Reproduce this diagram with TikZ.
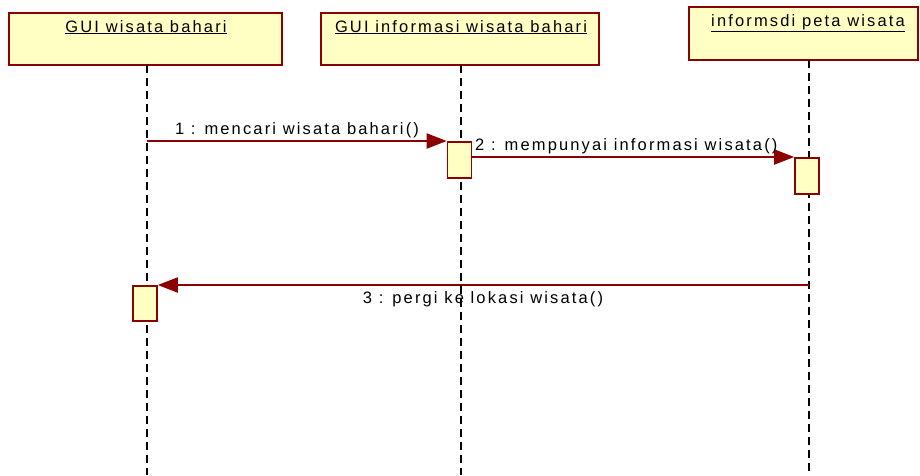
\documentclass[tikz,border=0pt]{standalone}
\usepackage{fontspec}
\setmainfont{Liberation Sans}[LetterSpace=13]
\usetikzlibrary{arrows.meta}
\definecolor{roseborder}{HTML}{8B0000}
\definecolor{rosefill}{HTML}{FFFFC4}
\begin{document}
\begin{tikzpicture}[x=1pt,y=-1pt,
  objbox/.style={draw=roseborder,fill=rosefill,line width=1.6pt,inner sep=0pt},
  actbox/.style={draw=roseborder,fill=rosefill,line width=1.6pt,inner sep=0pt,minimum width=24pt},
  lifeline/.style={draw=black,line width=1.6pt,dash pattern=on 8pt off 5pt},
  msg/.style={draw=roseborder,line width=1.9pt,-{Triangle[length=20pt,width=15pt]}},
  lbl/.style={inner sep=0pt,anchor=base,font=\fontsize{16.5pt}{18pt}\selectfont}
]
\useasboundingbox (0,0) rectangle (920,475);
% object boxes
\node[objbox,minimum width=273pt,minimum height=52pt] (o1) at (145.5,39) {};
\node[objbox,minimum width=278pt,minimum height=52pt] (o2) at (460,39) {};
\node[objbox,minimum width=229pt,minimum height=53pt] (o3) at (803.5,33.5) {};
\node[lbl] (t1) at (146,32) {\underline{GUI wisata bahari}};
\node[lbl] (t2) at (461,32) {\underline{GUI informasi wisata bahari}};
\node[lbl] (t3) at (808,26) {\underline{informsdi peta wisata}};
% lifeline ends
\coordinate (l1s) at (147,65);
\coordinate (l1e) at (147,475);
\coordinate (l2s) at (461,65);
\coordinate (l2e) at (461,475);
\coordinate (l3s) at (809,60);
\coordinate (l3e) at (809,475);
\draw[lifeline] (l1s) -- (l1e);
\draw[lifeline] (l2s) -- (l2e);
\draw[lifeline] (l3s) -- (l3e);
% activation boxes
\node[actbox,minimum height=36pt,anchor=north] (a2) at (459.5,141) {};
\node[actbox,minimum height=36pt,anchor=north] (a3) at (807,157) {};
\node[actbox,minimum height=35pt,anchor=north] (a1) at (145,285) {};
% messages
\coordinate (m1s) at (147,141);
\draw[msg] (m1s) -- (a2.north west);
\draw[msg] (a2.east |- a3.north west) -- (a3.north west);
\coordinate (m3s) at (809,285);
\draw[msg] (m3s) -- (a1.north east);
% labels
\node[lbl] (ml1) at (297,134) {1 : mencari wisata bahari()};
\node[lbl,anchor=base west] (ml2) at (475,150) {2 : mempunyai informasi wisata()};
\node[lbl] (ml3) at (483,303) {3 : pergi ke lokasi wisata()};
\end{tikzpicture}
\end{document}
